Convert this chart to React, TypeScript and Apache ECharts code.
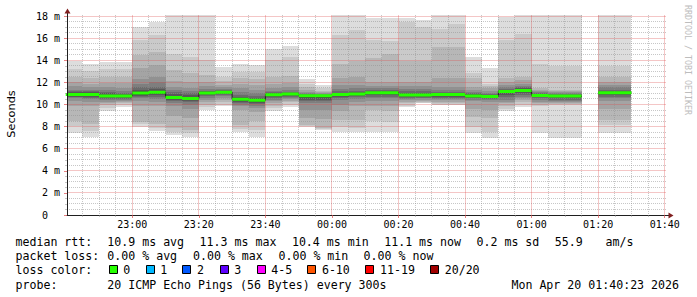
import React, { useEffect, useRef } from "react";
import * as echarts from "echarts";

// ---------- data ----------
// start time of each 5-minute step (step = 300 s)
const slotStarts = [
  "22:40", "22:45", "22:50", "22:55", "23:00", "23:05", "23:10", "23:15", "23:20", "23:25",
  "23:30", "23:35", "23:40", "23:45", "23:50", "23:55", "00:00", "00:05", "00:10", "00:15",
  "00:20", "00:25", "00:30", "00:35", "00:40", "00:45", "00:50", "00:55", "01:00", "01:05",
  "01:10", "01:15", "01:20", "01:25", "01:30", "01:35",
];
const stepMinutes = 5;
const axisStart = "22:40:23";
const axisEnd = "01:40:23";
const timeTicks = ["23:00", "23:20", "23:40", "00:00", "00:20", "00:40", "01:00", "01:20", "01:40"];
const yTickValues = [0, 2, 4, 6, 8, 10, 12, 14, 16, 18];
const yTickLabels = ["0", "2 m", "4 m", "6 m", "8 m", "10 m", "12 m", "14 m", "16 m", "18 m"];
const yMinorStep = 0.5;
const yMax = 18.1;

// median rtt per step (ms)
const medianRtt = [
  10.9, 10.9, 10.76, 10.76, 11.03, 11.1, 10.64, 10.55, 11.05, 11.12,
  10.47, 10.38, 10.88, 10.94, 10.79, 10.79, 10.9, 10.94, 11.06, 11.06,
  10.85, 10.85, 10.9, 10.9, 10.76, 10.73, 11.18, 11.27, 10.82, 10.76,
  10.76, null, 11.06, 11.06, null, null,
];

// sorted ping rtts per step (ms): ping01 = fastest ... ping20 = slowest
const ping01 = [7.45, 7.08, 9.43, 9.79, 7.98, 7.6, 7.23, 7.08, 9.49, 9.85, 7.47, 7.08, 9.43, 9.79, 7.98, 7.69, 7.47, 7.5, 7.47, 7.47, 9.74, 10.1, 9.92, 9.92, 7.44, 6.99, 9.43, 9.79, 7.44, 6.99, 6.99, null, 7.44, 7.44, null, null];
const ping02 = [8.08, 7.6, 9.7, 9.95, 8.2, 7.9, 7.54, 7.4, 9.75, 10.0, 7.8, 7.68, 9.7, 10.0, 8.05, 7.75, 7.98, 7.9, 8.5, 8.4, 9.9, 10.17, 10.0, 10.0, 7.98, 7.5, 9.6, 9.95, 9.9, 9.95, 9.95, null, 8.1, 8.1, null, null];
const ping03 = [8.5, 8.2, 9.95, 10.1, 8.45, 8.2, 7.9, 7.7, 10.0, 10.2, 8.15, 8.5, 9.9, 10.2, 8.15, 7.84, 8.6, 8.6, 9.5, 9.4, 10.1, 10.25, 10.1, 10.1, 8.9, 8.74, 9.9, 10.2, 10.0, 10.05, 10.05, null, 8.6, 8.6, null, null];
const ping04 = [9.9, 9.9, 10.1, 10.22, 9.9, 9.9, 9.0, 8.8, 10.2, 10.4, 9.5, 9.3, 10.1, 10.35, 8.8, 8.7, 9.4, 9.9, 9.9, 9.9, 10.25, 10.35, 10.25, 10.25, 9.6, 9.5, 10.1, 10.4, 10.1, 10.15, 10.15, null, 9.6, 9.6, null, null];
const ping05 = [10.3, 10.2, 10.25, 10.35, 10.3, 10.2, 9.9, 9.6, 10.45, 10.6, 9.88, 9.7, 10.3, 10.5, 9.5, 9.5, 10.0, 10.2, 10.3, 10.3, 10.4, 10.45, 10.4, 10.4, 10.3, 10.25, 10.25, 10.55, 10.25, 10.25, 10.25, null, 10.3, 10.3, null, null];
const ping06 = [10.55, 10.5, 10.4, 10.45, 10.55, 10.5, 10.1, 10.0, 10.6, 10.75, 10.0, 9.9, 10.45, 10.6, 10.1, 10.1, 10.4, 10.5, 10.6, 10.6, 10.5, 10.55, 10.5, 10.5, 10.45, 10.4, 10.45, 10.7, 10.4, 10.35, 10.35, null, 10.6, 10.6, null, null];
const ping07 = [10.65, 10.6, 10.5, 10.52, 10.7, 10.7, 10.3, 10.2, 10.75, 10.85, 10.15, 10.05, 10.6, 10.7, 10.3, 10.3, 10.55, 10.65, 10.7, 10.7, 10.6, 10.62, 10.6, 10.6, 10.55, 10.5, 10.65, 10.85, 10.55, 10.45, 10.45, null, 10.7, 10.7, null, null];
const ping08 = [10.72, 10.7, 10.58, 10.6, 10.8, 10.85, 10.4, 10.3, 10.85, 10.92, 10.25, 10.15, 10.7, 10.78, 10.45, 10.45, 10.65, 10.75, 10.85, 10.85, 10.68, 10.7, 10.7, 10.7, 10.62, 10.58, 10.85, 11.0, 10.65, 10.55, 10.55, null, 10.82, 10.82, null, null];
const ping09 = [10.8, 10.8, 10.65, 10.66, 10.9, 10.95, 10.5, 10.4, 10.95, 11.0, 10.35, 10.25, 10.78, 10.85, 10.6, 10.6, 10.75, 10.82, 10.95, 10.95, 10.75, 10.76, 10.8, 10.8, 10.68, 10.65, 11.0, 11.12, 10.72, 10.65, 10.65, null, 10.92, 10.92, null, null];
const ping10 = [10.86, 10.86, 10.72, 10.72, 10.98, 11.05, 10.58, 10.48, 11.0, 11.08, 10.43, 10.34, 10.84, 10.9, 10.75, 10.75, 10.85, 10.9, 11.02, 11.02, 10.81, 10.81, 10.86, 10.86, 10.73, 10.7, 11.12, 11.22, 10.78, 10.72, 10.72, null, 11.02, 11.02, null, null];
const ping11 = [10.95, 10.95, 10.8, 10.8, 11.08, 11.15, 10.7, 10.62, 11.08, 11.16, 10.52, 10.44, 10.92, 10.97, 10.82, 10.82, 10.94, 10.98, 11.1, 11.1, 10.89, 10.89, 10.94, 10.94, 10.8, 10.77, 11.22, 11.32, 10.86, 10.8, 10.8, null, 11.1, 11.1, null, null];
const ping12 = [11.0, 11.02, 10.9, 10.87, 11.2, 11.25, 10.8, 10.72, 11.12, 11.2, 10.6, 10.5, 10.95, 11.0, 10.84, 10.84, 10.98, 11.02, 11.14, 11.14, 10.95, 10.95, 10.98, 10.98, 10.85, 10.82, 11.27, 11.38, 10.9, 10.84, 10.84, null, 11.15, 11.15, null, null];
const ping13 = [11.1, 11.1, 11.0, 10.95, 11.35, 11.4, 10.95, 10.85, 11.18, 11.24, 10.7, 10.6, 11.0, 11.05, 10.87, 10.86, 11.05, 11.1, 11.2, 11.2, 11.05, 11.05, 11.05, 11.05, 10.92, 10.88, 11.33, 11.45, 10.95, 10.88, 10.88, null, 11.22, 11.22, null, null];
const ping14 = [11.2, 11.2, 11.1, 11.05, 11.6, 11.6, 11.1, 11.0, 11.25, 11.3, 10.85, 10.75, 11.1, 11.15, 10.92, 10.9, 11.2, 11.25, 11.3, 11.3, 11.2, 11.2, 11.15, 11.15, 11.0, 10.95, 11.42, 11.55, 11.0, 10.93, 10.93, null, 11.35, 11.35, null, null];
const ping15 = [11.35, 11.35, 11.3, 11.25, 11.9, 12.0, 11.3, 11.2, 11.4, 11.4, 11.1, 11.0, 11.25, 11.3, 11.0, 10.95, 11.4, 11.45, 11.45, 11.45, 11.4, 11.4, 11.3, 11.3, 11.1, 11.05, 11.55, 11.7, 11.1, 11.0, 11.0, null, 11.55, 11.55, null, null];
const ping16 = [11.65, 11.6, 11.55, 11.5, 12.27, 12.5, 11.6, 11.5, 11.66, 11.55, 11.45, 11.3, 11.5, 11.55, 11.1, 11.0, 11.75, 11.75, 11.7, 11.7, 11.7, 11.7, 11.6, 11.6, 11.3, 11.2, 11.75, 11.9, 11.25, 11.1, 11.1, null, 11.8, 11.8, null, null];
const ping17 = [12.0, 11.85, 11.96, 11.96, 13.26, 13.56, 12.1, 12.0, 12.05, 11.75, 11.9, 11.8, 11.9, 11.95, 11.3, 11.1, 12.36, 12.5, 12.06, 12.06, 12.06, 12.06, 12.36, 12.36, 11.6, 11.45, 12.06, 12.2, 11.35, 11.2, 11.2, null, 12.06, 12.06, null, null];
const ping18 = [12.5, 12.36, 12.5, 12.5, 14.47, 14.76, 13.11, 12.87, 12.66, 12.1, 12.4, 12.3, 12.5, 12.6, 11.55, 11.25, 13.7, 13.9, 14.2, 14.6, 13.98, 13.9, 15.2, 15.2, 12.36, 11.7, 12.36, 12.5, 11.45, 11.3, 11.3, null, 12.5, 12.5, null, null];
const ping19 = [13.2, 13.04, 13.17, 13.17, 15.88, 16.28, 14.56, 14.32, 14.02, 12.45, 12.96, 12.96, 14.02, 14.32, 11.85, 11.45, 16.3, 16.73, 15.8, 15.76, 17.48, 17.0, 16.87, 17.33, 12.85, 11.9, 15.82, 16.42, 13.71, 13.47, 13.47, null, 13.47, 13.47, null, null];
const ping20 = [13.95, 13.65, 13.86, 13.86, 16.97, 17.45, 18.1, 18.1, 18.1, 13.41, 13.65, 13.62, 15.0, 15.28, 12.3, 11.75, 18.1, 18.1, 17.87, 17.87, 17.79, 17.63, 18.1, 18.1, 14.32, 13.26, 17.93, 18.1, 18.1, 18.1, 18.1, null, 18.1, 18.1, null, null];

const pingRanks = [
  ping01, ping02, ping03, ping04, ping05, ping06, ping07, ping08, ping09, ping10,
  ping11, ping12, ping13, ping14, ping15, ping16, ping17, ping18, ping19, ping20,
];

// legend
const lossLabels = ["0", "1", "2", "3", "4-5", "6-10", "11-19", "20/20"];
const lossColors = ["#26ff00", "#00b8ff", "#0059ff", "#5e00ff", "#ff00ff", "#ff5500", "#ff0000", "#a10000"];
const rttItems = ["10.9 ms avg", "11.3 ms max", "10.4 ms min", "11.1 ms now", "0.2 ms sd", "55.9"];
const lossItems = ["0.00 % avg", "0.00 % max", "0.00 % min", "0.00 % now"];
const probeText = "20 ICMP Echo Pings (56 Bytes) every 300s";
const stampText = "Mon Apr 20 01:40:23 2026";

// ---------- styles ----------
const smokeShades = ["#dddddd", "#cacaca", "#b7b7b7", "#a4a4a4", "#919191", "#7e7e7e", "#6b6b6b", "#585858", "#454545", "#323232"];
const MONO = '"DejaVu Sans Mono", monospace';
const gridMinor = "rgba(143,143,143,0.5)";
const gridMajor = "rgba(222,79,79,0.32)";
const tickMajor = "rgba(222,79,79,0.7)";
const axisColor = "#1f1f1f";
const arrowColor = "#801f1f";

function toMinutes(t: string): number {
  const [h, m, s = 0] = t.split(":").map(Number);
  const hh = h < 12 ? h + 24 : h;
  return (hh - 22) * 60 + m + s / 60;
}

function gridSeries(name: string, items: number[][], color: string, dash: number[] | null, xMin: number, z: number) {
  return {
    type: "custom",
    name,
    xAxisIndex: 0,
    yAxisIndex: 0,
    z,
    clip: false,
    silent: true,
    data: items,
    encode: { x: 0 },
    renderItem: (params: any, api: any) => {
      const v = api.value(0) as number;
      const horiz = api.value(1) === 1;
      const cs = params.coordSys;
      const style: any = { stroke: color, lineWidth: 1, fill: "none" };
      if (dash) style.lineDash = dash;
      if (horiz) {
        const p = api.coord([xMin, v]);
        const y = Math.floor(p[1]) + 0.5;
        return { type: "line", shape: { x1: cs.x, y1: y, x2: cs.x + cs.width, y2: y }, style };
      }
      const p = api.coord([v, 0]);
      const x = Math.floor(p[0]) + 0.5;
      return { type: "line", shape: { x1: x, y1: cs.y, x2: x, y2: cs.y + cs.height }, style };
    },
  };
}

function buildOption() {
  const xMin = toMinutes(axisStart);
  const xMax = toMinutes(axisEnd);
  const majorX = timeTicks.map(toMinutes);
  const minorX = slotStarts
    .map(toMinutes)
    .filter((v) => v > xMin && v <= xMax && !majorX.some((m) => Math.abs(m - v) < 1e-6));
  const minorY: number[] = [];
  for (let k = 1; k * yMinorStep <= 18.0001; k++) {
    const r = Math.round(k * yMinorStep * 10) / 10;
    if (!yTickValues.some((y) => Math.abs(y - r) < 1e-6)) minorY.push(r);
  }

  // grid line items: [value, orientation (0 = vertical, 1 = horizontal)]
  const minorItems: number[][] = [...minorX.map((v) => [v, 0]), ...minorY.map((v) => [v, 1])];
  const majorItems: number[][] = [...majorX.map((v) => [v, 0]), ...yTickValues.filter((v) => v > 0).map((v) => [v, 1])];

  const smokeData: number[][] = [];
  const blackLine: any[] = [];
  const greenLine: any[] = [];
  slotStarts.forEach((s, i) => {
    const t0 = toMinutes(s);
    const t1 = t0 + stepMinutes;
    if (ping01[i] != null) smokeData.push([t0, t1, i, ping01[i] as number, ping20[i] as number]);
    const m = medianRtt[i];
    if (m != null) {
      blackLine.push([t0, m], [t1, m]);
      greenLine.push([t0, m], [t1, m], [t1, "-"]);
    } else {
      blackLine.push([t0, "-"]);
    }
  });

  const texts: any[] = [];
  const addText = (x: number, y: number, text: string, extra: any = {}) =>
    texts.push({
      type: "text",
      x,
      y,
      silent: true,
      style: {
        text,
        font: `11.6px ${MONO}`,
        fill: "#000",
        textAlign: extra.align || "left",
        align: extra.align || "left",
        textVerticalAlign: "middle",
        verticalAlign: "middle",
      },
    });
  const rowY = [241.5, 255.5, 270, 284.5];
  addText(15.5, rowY[0], "median rtt:");
  const rttX = [107.3, 199.6, 291.9, 384.2, 476.5, 554.8];
  rttItems.forEach((t, k) => addText(rttX[k], rowY[0], t));
  addText(605.5, rowY[0], "am/s");
  addText(15.5, rowY[1], "packet loss:");
  const lossX = [107.3, 193, 278.5, 363.6];
  lossItems.forEach((t, k) => addText(lossX[k], rowY[1], t));
  addText(15.5, rowY[2], "loss color:");
  const boxX = [108.6, 145.5, 182.2, 219.5, 256.5, 307.2, 365.3, 430];
  lossLabels.forEach((l, k) => {
    texts.push({
      type: "rect",
      silent: true,
      shape: { x: Math.round(boxX[k]) + 0.5, y: 265.5, width: 8, height: 8 },
      style: { fill: lossColors[k], stroke: "#000", lineWidth: 1 },
    });
    addText(boxX[k] + 14.7, rowY[2], l);
  });
  addText(15.5, rowY[3], "probe:");
  addText(107.3, rowY[3], probeText);
  addText(679, rowY[3], stampText, { align: "right" });

  // y title
  texts.push({
    type: "text",
    x: 11,
    y: 114,
    rotation: Math.PI / 2,
    silent: true,
    style: {
      text: "Seconds",
      font: '11.3px "DejaVu Sans", sans-serif',
      fill: "#000",
      textAlign: "center",
      align: "center",
      textVerticalAlign: "middle",
      verticalAlign: "middle",
    },
  });
  // watermark
  texts.push({
    type: "text",
    x: 688,
    y: 60,
    rotation: -Math.PI / 2,
    silent: true,
    style: {
      text: "RRDTOOL / TOBI OETIKER",
      font: `8.3px ${MONO}`,
      fill: "#bdbdbd",
      textAlign: "center",
      align: "center",
      textVerticalAlign: "middle",
      verticalAlign: "middle",
    },
  });
  // axis arrows
  texts.push({ type: "line", silent: true, z: 10, shape: { x1: 67.5, y1: 15, x2: 67.5, y2: 12 }, style: { stroke: axisColor, lineWidth: 1 } });
  texts.push({ type: "polygon", silent: true, z: 10, shape: { points: [[64.5, 13.5], [70.5, 13.5], [67.5, 8.5]] }, style: { fill: arrowColor } });
  texts.push({ type: "line", silent: true, z: 10, shape: { x1: 666, y1: 215.5, x2: 669, y2: 215.5 }, style: { stroke: axisColor, lineWidth: 1 } });
  texts.push({ type: "polygon", silent: true, z: 10, shape: { points: [[668.5, 212.5], [668.5, 218.5], [673.5, 215.5]] }, style: { fill: arrowColor } });

  const xLabel = (v: number) => {
    const t = timeTicks.find((s) => Math.abs(toMinutes(s) - v) < 1e-6);
    return t ?? "";
  };
  const yLabel = (v: number) => {
    const k = yTickValues.findIndex((y) => Math.abs(y - v) < 1e-6);
    if (k < 0) return "";
    return k === 0 ? "{z|" + yTickLabels[k] + "}" : yTickLabels[k];
  };

  return {
    animation: false,
    backgroundColor: "#ffffff",
    grid: { left: 67, right: 31, top: 15, bottom: 82, containLabel: false },
    xAxis: [
      {
        type: "value",
        min: xMin,
        max: xMax,
        position: "bottom",
        z: 5,
        axisLine: { show: false, onZero: false },
        axisTick: { show: true, customValues: minorX, length: 2, lineStyle: { color: gridMinor } },
        axisLabel: { show: false },
        splitLine: { show: false },
      },
      {
        type: "value",
        min: xMin,
        max: xMax,
        position: "bottom",
        z: 5,
        axisLine: { show: true, onZero: false, lineStyle: { color: axisColor, width: 1 } },
        axisTick: { show: true, customValues: majorX, length: 3, lineStyle: { color: tickMajor } },
        axisLabel: {
          show: true,
          customValues: majorX,
          formatter: xLabel,
          margin: 4,
          fontFamily: MONO,
          fontSize: 10,
          color: "#000",
        },
        splitLine: { show: false },
      },
    ],
    yAxis: [
      {
        type: "value",
        min: 0,
        max: yMax,
        position: "left",
        z: 5,
        axisLine: { show: false, onZero: false },
        axisTick: { show: true, customValues: minorY, length: 2, lineStyle: { color: gridMinor } },
        axisLabel: { show: false },
        splitLine: { show: false },
      },
      {
        type: "value",
        min: 0,
        max: yMax,
        position: "left",
        z: 5,
        axisLine: { show: true, onZero: false, lineStyle: { color: axisColor, width: 1 } },
        axisTick: { show: true, customValues: yTickValues, length: 3, lineStyle: { color: tickMajor } },
        axisLabel: {
          show: true,
          customValues: yTickValues,
          formatter: yLabel,
          margin: 7,
          fontFamily: MONO,
          fontSize: 10,
          color: "#000",
          rich: { z: { fontFamily: MONO, fontSize: 10, color: "#000", padding: [0, 12, 0, 0] } },
        },
        splitLine: { show: false },
      },
    ],
    series: [
      {
        type: "custom",
        name: "smoke",
        xAxisIndex: 0,
        yAxisIndex: 0,
        z: 1,
        clip: true,
        silent: true,
        data: smokeData,
        encode: { x: [0, 1], y: [3, 4] },
        renderItem: (params: any, api: any) => {
          const i = api.value(2) as number;
          const t0 = api.value(0) as number;
          const t1 = api.value(1) as number;
          const cs = params.coordSys;
          const children: any[] = [];
          for (let k = 0; k < 10; k++) {
            const lo = pingRanks[k][i];
            const hi = pingRanks[19 - k][i];
            if (lo == null || hi == null) continue;
            const a = api.coord([t0, hi]);
            const b = api.coord([t1, lo]);
            const x0 = Math.round(a[0]);
            const x1 = Math.round(b[0]);
            const y0 = Math.round(a[1]);
            const y1 = Math.round(b[1]);
            const shape = echarts.graphic.clipRectByRect(
              { x: x0, y: y0, width: x1 - x0, height: y1 - y0 },
              { x: cs.x, y: cs.y, width: cs.width, height: cs.height }
            );
            if (shape) children.push({ type: "rect", shape, style: { fill: smokeShades[k] } });
          }
          return { type: "group", children };
        },
      },
      gridSeries("minor grid", minorItems, gridMinor, [1, 1], xMin, 2),
      gridSeries("major grid", majorItems, gridMajor, null, xMin, 2),
      {
        type: "line",
        name: "median",
        xAxisIndex: 0,
        yAxisIndex: 0,
        z: 3,
        silent: true,
        showSymbol: false,
        symbol: "none",
        connectNulls: false,
        data: blackLine,
        lineStyle: { color: "#202020", width: 1 },
      },
      {
        type: "line",
        name: "median loss 0",
        xAxisIndex: 0,
        yAxisIndex: 0,
        z: 4,
        silent: true,
        showSymbol: false,
        symbol: "none",
        connectNulls: false,
        data: greenLine,
        lineStyle: { color: "#26ff00", width: 3, cap: "butt" },
      },
    ],
    graphic: texts,
  };
}

export default function App() {
  const ref = useRef<HTMLDivElement>(null);
  useEffect(() => {
    document.body.style.margin = "0";
    const chart = echarts.init(ref.current!, undefined, { renderer: "svg" });
    chart.setOption(buildOption() as any);
    return () => chart.dispose();
  }, []);
  return <div ref={ref} style={{ width: 697, height: 297, background: "#fff" }} />;
}
